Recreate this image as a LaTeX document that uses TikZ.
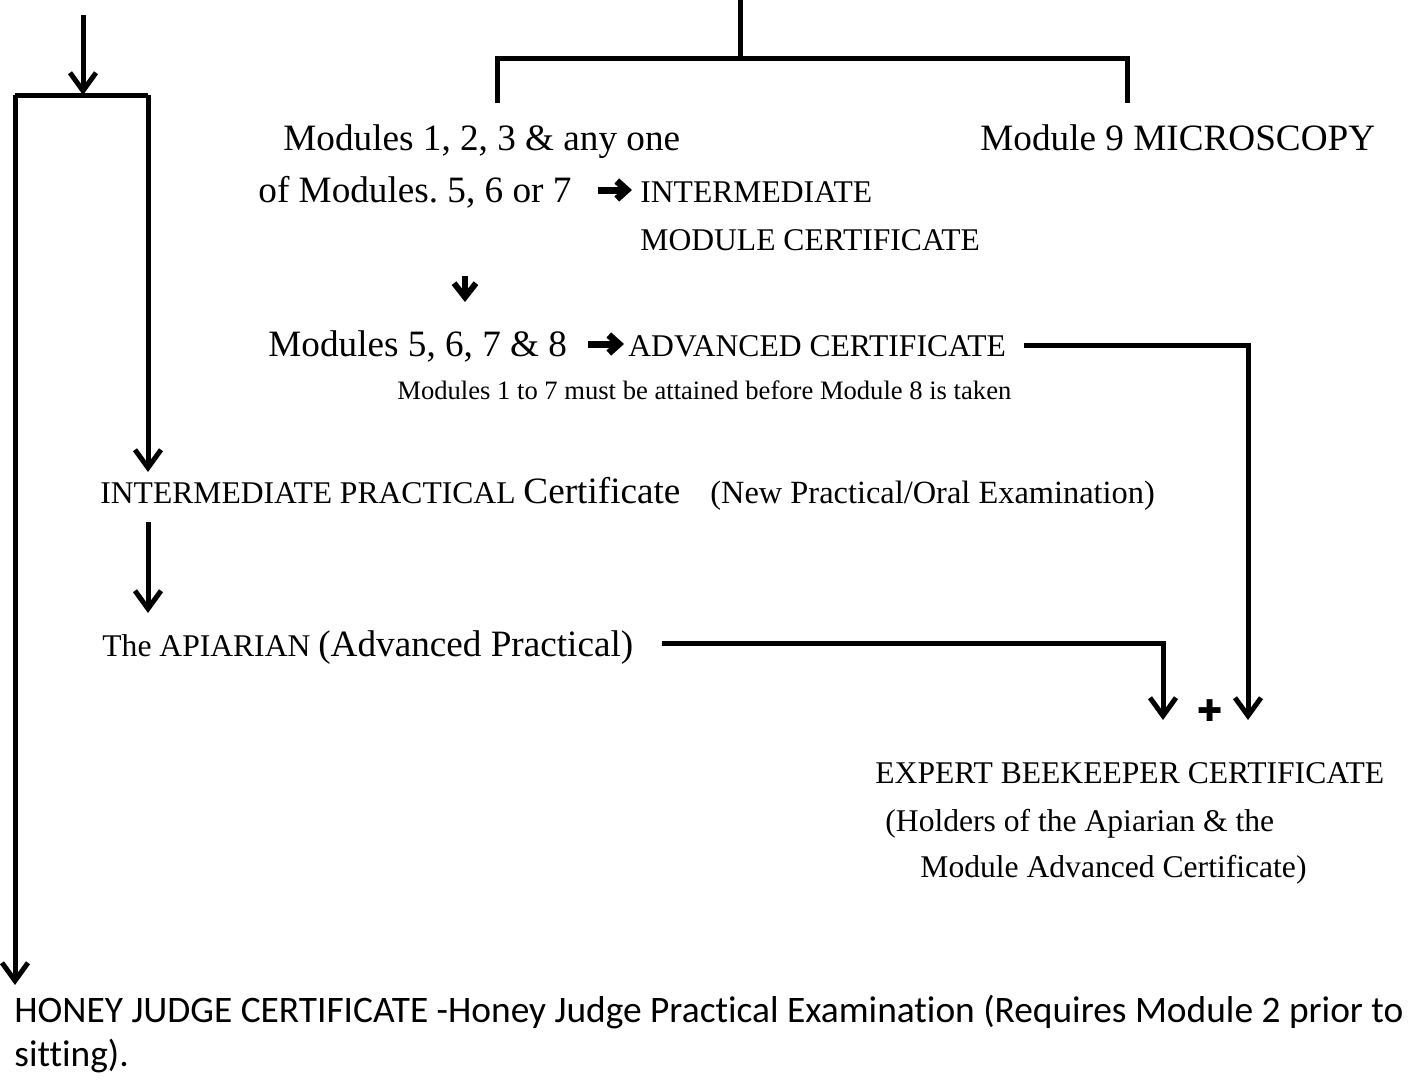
\documentclass[tikz,border=0pt]{standalone}
\usepackage{fontspec}
\setmainfont{Liberation Serif}
\newfontfamily\carlito[Ligatures=NoCommon]{Carlito}
\newfontfamily\dejavu{DejaVu Sans}
\usepackage{tikz}
\usetikzlibrary{arrows.meta}
\usetikzlibrary{positioning}
\newcommand{\bigtxt}{\fontsize{18.6}{22}\selectfont}
\newcommand{\captxt}{\fontsize{15.8}{19}\selectfont}
\newcommand{\notetxt}{\fontsize{13.3}{16}\selectfont}
\newcommand{\honeytxt}{\carlito\fontsize{18.7}{22}\selectfont}
\frenchspacing

\tikzset{
  txt/.style={inner sep=0pt, anchor=base west},
  flow/.style={line width=2.5pt},
  flowarr/.style={line width=2.5pt, -{Straight Barb[length=9pt,width=13pt]}},
  fatarr/.style={line width=3.5pt, -{Straight Barb[length=5pt,width=9pt]}},
}

\begin{document}
\begin{tikzpicture}[x=0.5pt,y=-0.5pt]
  \useasboundingbox (0,0) rectangle (1417,1083);
  \node[txt] (mod123) at (283,150) {\bigtxt Modules 1, 2, 3 \& any one};
  \node[txt] (mod9) at (980,150) {\bigtxt Module 9 MICROSCOPY};
  \node[txt] (mod567) at (258,202) {\bigtxt of Modules. 5, 6 or 7};
  \node[txt] (intmod) at (640,202) {\captxt INTERMEDIATE};
  \node[txt] (intcert) at (640,250) {\captxt MODULE CERTIFICATE};
  \node[txt] (mod5678) at (268,356) {\bigtxt Modules 5, 6, 7 \& 8};
  \node[txt] (advcert) at (628,356) {\captxt ADVANCED CERTIFICATE};
  \node[txt] (note) at (397,399) {\notetxt Modules 1 to 7 must be attained before Module 8 is taken};
  \node[txt] (intprac) at (100,503) {\captxt INTERMEDIATE PRACTICAL \bigtxt Certificate};
  \node[txt] (newprac) at (710,503) {\fontsize{16.2}{19}\selectfont (New Practical/Oral Examination)};
  \node[txt] (apiarian) at (102,656) {\captxt The APIARIAN \bigtxt(Advanced Practical)};
  \node[inner sep=0pt] (plus) at (1210,711) {\dejavu\fontsize{15}{15}\selectfont ✚};
  \node[txt] (expert) at (875,783) {\captxt EXPERT BEEKEEPER CERTIFICATE};
  \node[txt] (holders) at (885,831) {\captxt (Holders of the Apiarian \& the};
  \node[txt] (modadv) at (920,877) {\captxt Module Advanced Certificate)};
  \node[txt] (honey) at (14,1022) {\honeytxt HONEY JUDGE CERTIFICATE -Honey Judge Practical Examination (Requires Module 2 prior to};
  \node[txt] (sitting) at (14,1066) {\honeytxt sitting).};

  \coordinate (topin) at (83,15);
  \coordinate (lefttop) at (15,95);
  \coordinate (righttop) at (148,95);
  \coordinate (honeytip) at (15,985);
  \coordinate (practip) at (148,472);
  \coordinate (apiartip) at (148,613);
  \coordinate (stem) at (740,0);
  \coordinate (bracketl) at (497,58);
  \coordinate (bracketr) at (1127,58);
  \coordinate (apiartip2) at (1163,720);
  \coordinate (advtip) at (1248,720);

  \draw[flowarr] (topin) -- (topin |- lefttop);
  \draw[flow] (lefttop) -- (righttop);
  \draw[flowarr] (lefttop) -- (honeytip);
  \draw[flowarr] (righttop) -- (practip);
  \draw[flowarr] (148,522) -- (apiartip);
  \draw[flow] (stem) -- (stem |- bracketl);
  \draw[flow] (bracketl |- 0,103) -- (bracketl) -- (bracketr) -- (bracketr |- 0,103);
  \draw[fatarr] ([xshift=13pt,yshift=6pt]mod567.base east) -- ([xshift=-4pt,yshift=6pt]intmod.base west);
  \draw[fatarr] ([xshift=10.5pt,yshift=6pt]mod5678.base east) -- ([xshift=-2pt,yshift=6pt]advcert.base west);
  \draw[line width=3pt, -{Straight Barb[length=7pt,width=11pt]}] (465,276) -- (465,302);
  \draw[flowarr] ([xshift=9pt]advcert.east |- 0,345) -| (advtip);
  \draw[flowarr] ([xshift=14pt]apiarian.east |- 0,643) -| (apiartip2);
\end{tikzpicture}
\end{document}
